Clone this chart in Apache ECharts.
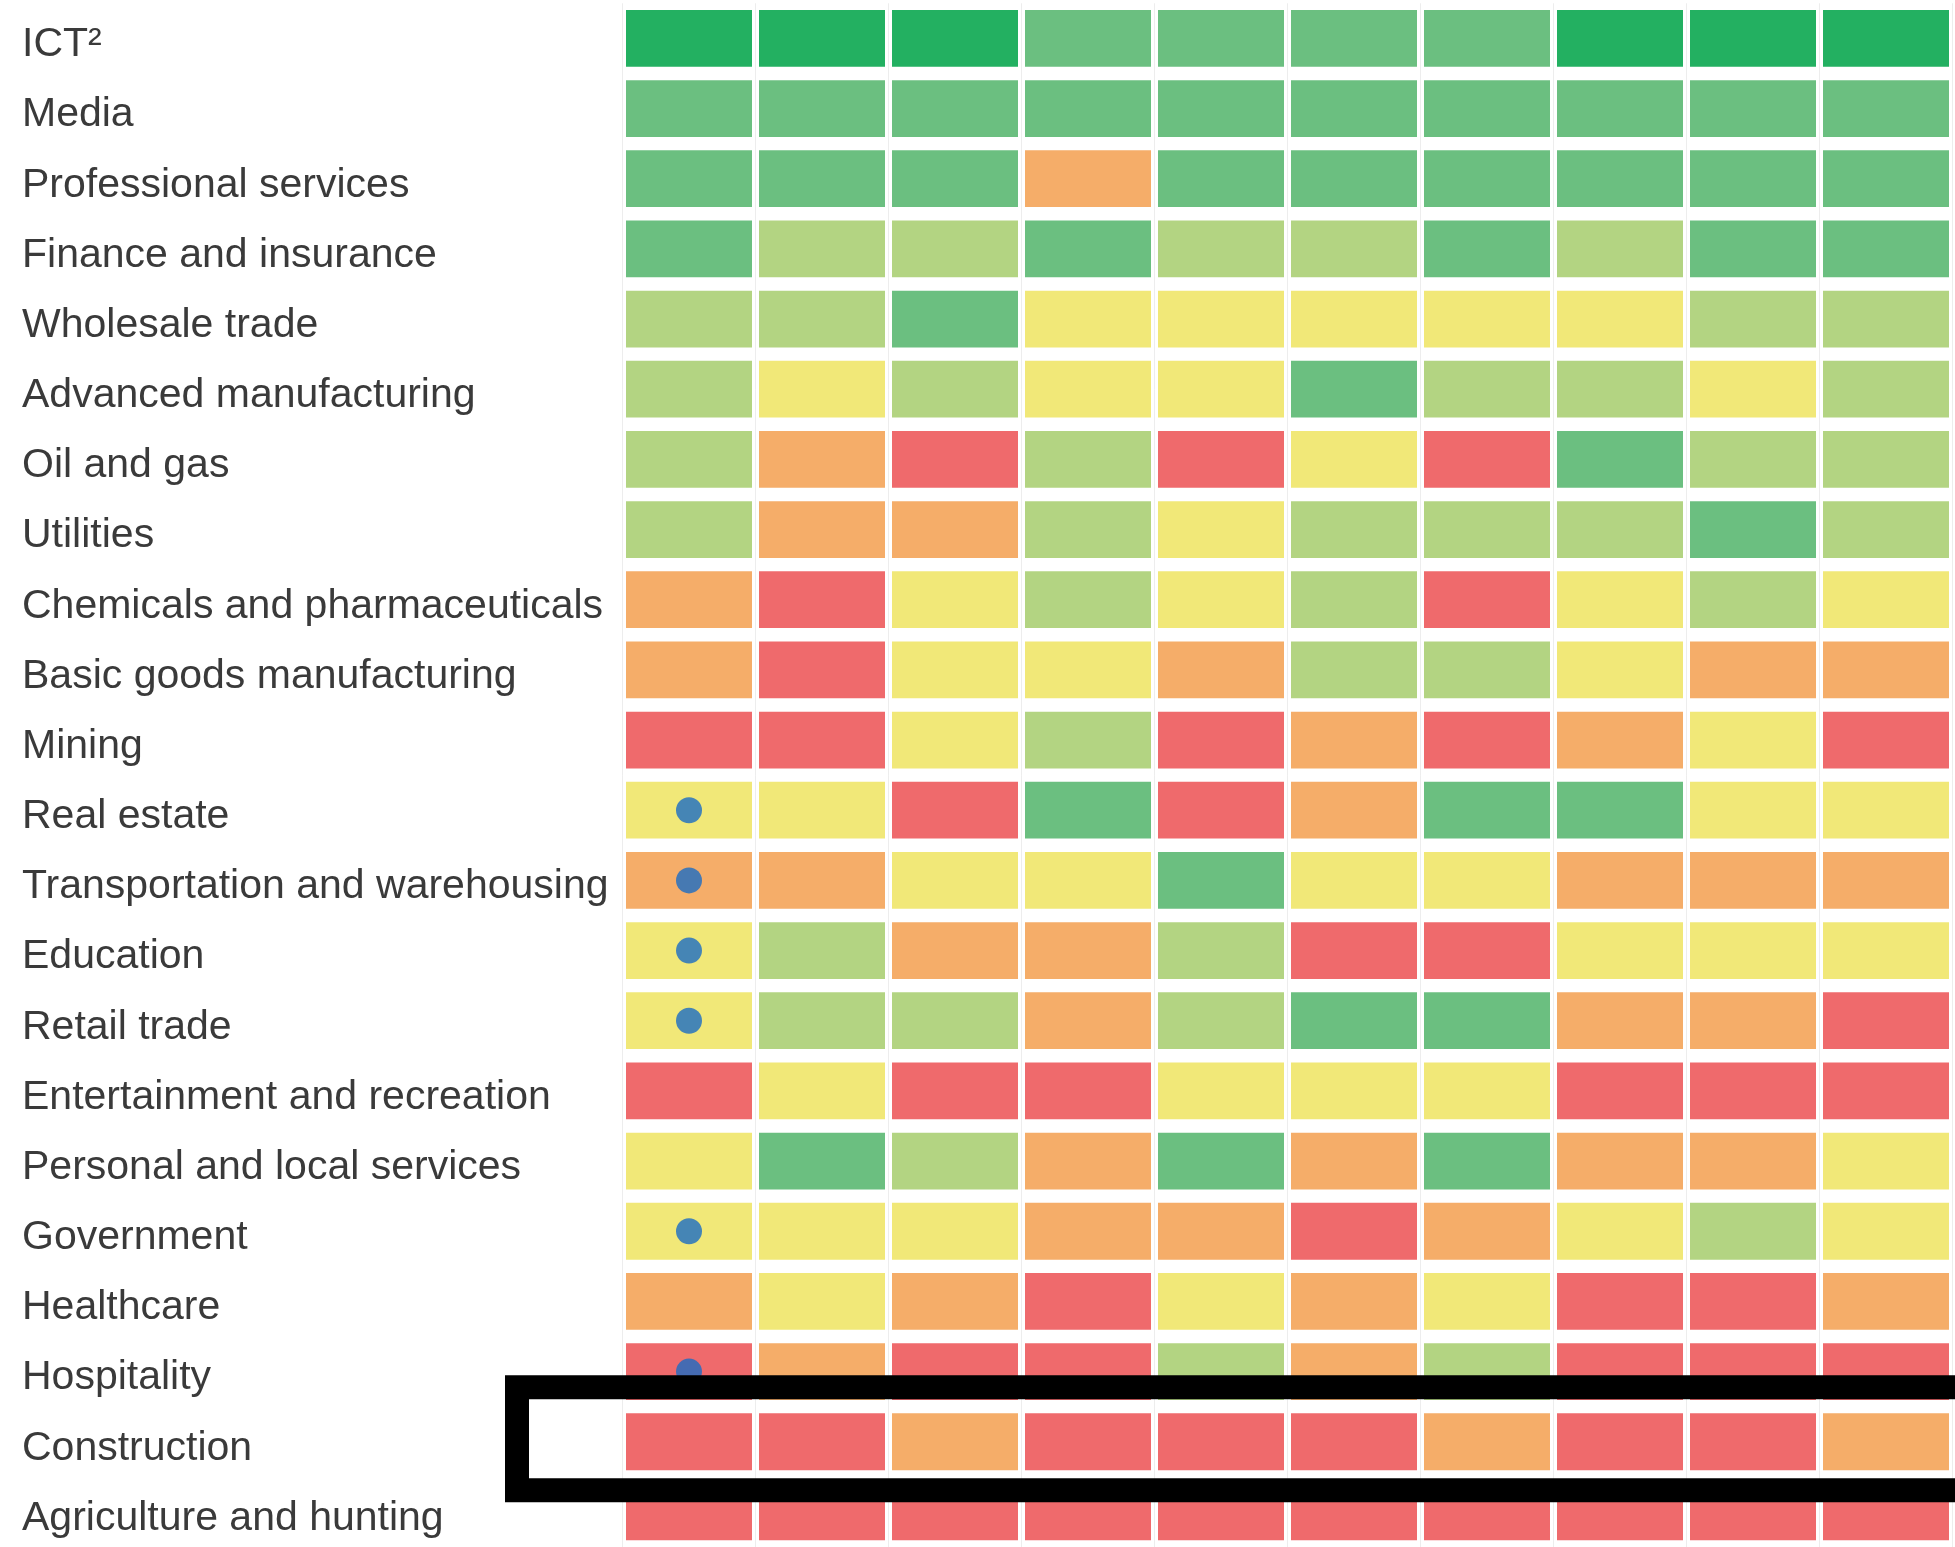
<!DOCTYPE html>
<html>
<head>
<meta charset="utf-8">
<script src="https://cdn.jsdelivr.net/npm/echarts@6/dist/echarts.min.js"></script>
<style>
  html, body { margin: 0; padding: 0; background: #ffffff; }
  #chart { width: 1955px; height: 1547px; }
</style>
</head>
<body>
<div id="chart"></div>
<script>
// ---- data ----
const sectors = [
  'ICT²', 'Media', 'Professional services', 'Finance and insurance', 'Wholesale trade',
  'Advanced manufacturing', 'Oil and gas', 'Utilities', 'Chemicals and pharmaceuticals',
  'Basic goods manufacturing', 'Mining', 'Real estate', 'Transportation and warehousing',
  'Education', 'Retail trade', 'Entertainment and recreation', 'Personal and local services',
  'Government', 'Healthcare', 'Hospitality', 'Construction', 'Agriculture and hunting'
];
const columns = ['1', '2', '3', '4', '5', '6', '7', '8', '9', '10'];

// level: 5 = highest (dark green) ... 0 = lowest (red)
const ict          = [5,5,5,4,4,4,4,5,5,5];
const media        = [4,4,4,4,4,4,4,4,4,4];
const professional = [4,4,4,1,4,4,4,4,4,4];
const finance      = [4,3,3,4,3,3,4,3,4,4];
const wholesale    = [3,3,4,2,2,2,2,2,3,3];
const advancedMfg  = [3,2,3,2,2,4,3,3,2,3];
const oilGas       = [3,1,0,3,0,2,0,4,3,3];
const utilities    = [3,1,1,3,2,3,3,3,4,3];
const chemicals    = [1,0,2,3,2,3,0,2,3,2];
const basicGoods   = [1,0,2,2,1,3,3,2,1,1];
const mining       = [0,0,2,3,0,1,0,1,2,0];
const realEstate   = [2,2,0,4,0,1,4,4,2,2];
const transport    = [1,1,2,2,4,2,2,1,1,1];
const education    = [2,3,1,1,3,0,0,2,2,2];
const retail       = [2,3,3,1,3,4,4,1,1,0];
const entertainment= [0,2,0,0,2,2,2,0,0,0];
const personal     = [2,4,3,1,4,1,4,1,1,2];
const government   = [2,2,2,1,1,0,1,2,3,2];
const healthcare   = [1,2,1,0,2,1,2,0,0,1];
const hospitality  = [0,1,0,0,3,1,3,0,0,0];
const construction = [0,0,1,0,0,0,1,0,0,1];
const agriculture  = [0,0,0,0,0,0,0,0,0,0];

const rows = [ict, media, professional, finance, wholesale, advancedMfg, oilGas, utilities,
  chemicals, basicGoods, mining, realEstate, transport, education, retail, entertainment,
  personal, government, healthcare, hospitality, construction, agriculture];

// sectors marked with a dot (first column)
const dotSectors = ['Real estate', 'Transportation and warehousing', 'Education',
  'Retail trade', 'Government', 'Hospitality'];

const highlightSector = 'Construction';

// ---- styling ----
const levelColors = ['#ef6a6c', '#f5ad69', '#f1e878', '#b3d482', '#6bbf80', '#23b061'];
const GRID_LEFT = 622.5, GRID_TOP = 3.3, GRID_W = 1330, GRID_H = 1548.8;
const GAP_X = 7, GAP_Y = 13.4;

const cells = [];
rows.forEach((r, yi) => r.forEach((v, xi) => cells.push([xi, yi, v])));
const dots = dotSectors.map(s => [0, sectors.indexOf(s)]);

const chart = echarts.init(document.getElementById('chart'), null, { renderer: 'canvas' });
chart.setOption({
  backgroundColor: '#ffffff',
  animation: false,
  grid: { left: GRID_LEFT, top: GRID_TOP, width: GRID_W, height: GRID_H, containLabel: false },
  xAxis: {
    type: 'category', data: columns, position: 'top',
    axisLine: { show: false }, axisTick: { show: false }, axisLabel: { show: false },
    splitLine: { show: true, lineStyle: { color: '#ededed', width: 1 } }
  },
  yAxis: {
    type: 'category', data: sectors, inverse: true,
    axisLine: { show: false }, axisTick: { show: false }, splitLine: { show: false },
    axisLabel: {
      show: true, align: 'left', margin: GRID_LEFT - 22,
      verticalAlign: 'top', lineHeight: 13,
      color: '#3a3a3a', fontSize: 41, fontFamily: 'Liberation Sans, Arial, sans-serif'
    }
  },
  series: [
    {
      type: 'custom',
      data: cells,
      encode: { x: 0, y: 1 },
      renderItem: function (params, api) {
        const c = api.coord([api.value(0), api.value(1)]);
        const s = api.size([1, 1]);
        const w = s[0] - GAP_X, h = s[1] - GAP_Y;
        return {
          type: 'rect',
          shape: { x: c[0] - w / 2, y: c[1] - h / 2, width: w, height: h },
          style: { fill: levelColors[api.value(2)] }
        };
      },
      z: 2
    },
    {
      type: 'scatter',
      data: dots,
      symbol: 'circle',
      symbolSize: 26,
      itemStyle: { color: '#1a6cc4' },
      z: 3
    }
  ]
});

// highlight box around the selected row
const cy = chart.convertToPixel({ yAxisIndex: 0 }, highlightSector);
const LW = 24;
chart.setOption({
  graphic: [{
    type: 'rect', z: 100,
    shape: { x: GRID_LEFT - 105.5, y: cy - 3 - 51.5, width: 1500, height: 103 },
    style: { fill: null, stroke: '#000000', lineWidth: LW }
  }]
});
</script>
</body>
</html>
